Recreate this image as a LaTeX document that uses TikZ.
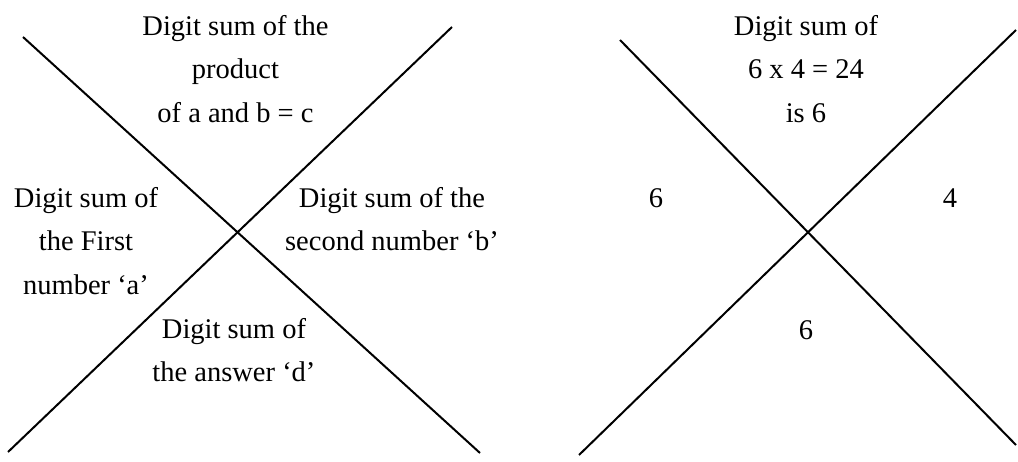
\documentclass[tikz,border=0pt]{standalone}
\usepackage{fontspec}
\setmainfont{Liberation Serif}
\usetikzlibrary{positioning}
\tikzset{
  crossLine/.style={line width=2pt, black},
  sumText/.style={align=center, inner sep=0pt, anchor=center,
                  font=\fontsize{28.5}{43.5}\selectfont},
}
\begin{document}
\begin{tikzpicture}[x=1pt, y=-1pt]
    \useasboundingbox (0,0) rectangle (1018,462);
    % general rule
    \coordinate (lA) at (23,37);  \coordinate (lB) at (480,453);
    \coordinate (lC) at (452,27); \coordinate (lD) at (8,452);
    \draw[crossLine] (lA) -- (lB); \draw[crossLine] (lC) -- (lD);
    \node[sumText] (prod) at (235.5,69) {Digit sum of the\\product\\of a and b = c};
    \node[sumText] (first) at (86,241) {Digit sum of\\the First\\number ‘a’};
    \node[sumText] (second) at (392,219.25) {Digit sum of the\\second number ‘b’};
    \node[sumText] (answer) at (234,350.25) {Digit sum of\\the answer ‘d’};
    % worked example
    \coordinate (rA) at (620,40);  \coordinate (rB) at (1016,445);
    \coordinate (rC) at (1016,30); \coordinate (rD) at (579,455);
    \draw[crossLine] (rA) -- (rB); \draw[crossLine] (rC) -- (rD);
    \node[sumText] (exProd) at (806,69) {Digit sum of\\6 x 4 = 24\\is 6};
    \node[sumText] (exFirst) at (656,198.5) {6};
    \node[sumText] (exSecond) at (950,198.5) {4};
    \node[sumText] (exAnswer) at (806,330.5) {6};
\end{tikzpicture}
\end{document}
